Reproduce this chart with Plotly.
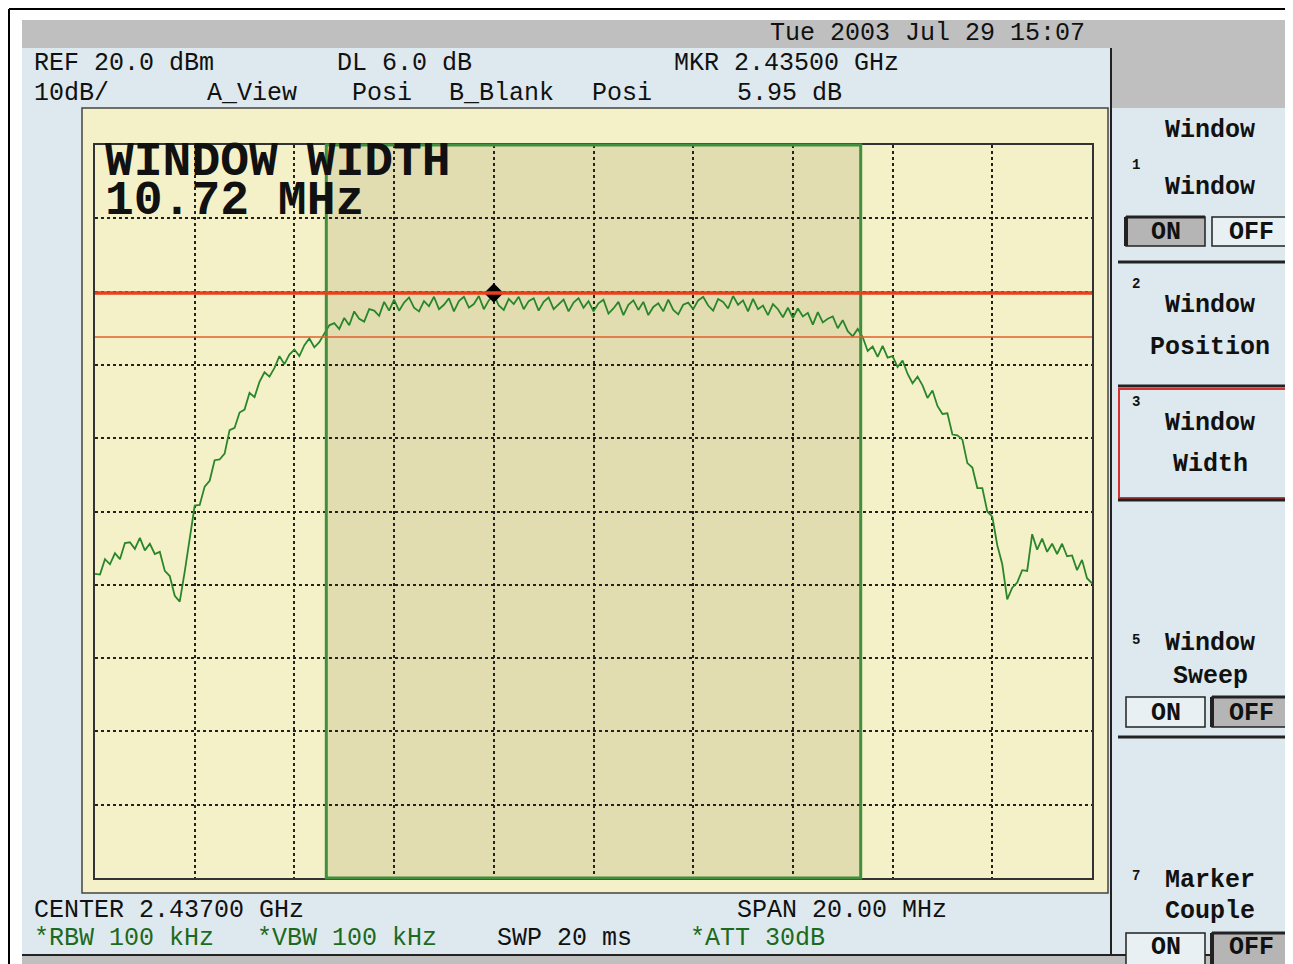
import plotly.graph_objects as go

# ---- analyzer settings ----
center_ghz = 2.437
span_mhz = 20.0
ref_dbm = 20.0
db_per_div = 10.0
marker_ghz = 2.435
marker_dbm = -0.2
dl_db = 6.0
window_mhz = 10.72

# trace A, one value per 0.1 MHz across the span (dBm)
trace_dbm = [
    -38.5, -38.6, -36.5, -37.2, -35.7, -36.5, -34.3, -34.2, -35.1, -33.6,
    -35.3, -34.4, -35.8, -35.5, -38.1, -38.8, -41.5, -42.3, -38.2, -33.8,
    -29.2, -29.1, -26.6, -25.8, -23.0, -22.9, -22.1, -18.9, -18.6, -16.5,
    -16.1, -13.8, -14.4, -12.3, -11.0, -11.6, -10.4, -8.8, -9.9, -8.6,
    -7.9, -8.8, -7.3, -6.4, -7.6, -6.9, -5.7, -4.6, -4.3, -5.1,
    -3.6, -4.6, -2.7, -3.7, -4.1, -2.4, -2.6, -3.3, -1.4, -2.6,
    -1.1, -2.6, -1.5, -0.8, -2.2, -2.7, -1.3, -2.0, -0.7, -2.4,
    -1.8, -0.9, -2.7, -1.3, -0.7, -2.2, -1.7, -0.6, -2.4, -1.2,
    -0.4, -1.9, -2.5, -1.0, -1.7, -0.7, -2.4, -1.3, -0.9, -2.6,
    -1.4, -0.8, -2.4, -1.8, -1.1, -2.7, -1.5, -0.9, -2.2, -1.3,
    -2.7, -1.6, -1.1, -3.0, -2.3, -1.4, -3.2, -1.8, -1.2, -2.5,
    -1.4, -3.2, -2.1, -1.6, -2.7, -1.1, -2.5, -3.1, -1.8, -1.5,
    -2.4, -1.2, -0.7, -1.9, -2.6, -1.0, -1.4, -2.3, -0.6, -1.8,
    -1.2, -2.7, -1.0, -2.4, -1.9, -3.2, -1.7, -2.4, -3.5, -2.2,
    -3.6, -2.3, -3.4, -2.9, -4.5, -2.8, -4.2, -3.7, -3.4, -5.0,
    -3.9, -5.4, -6.1, -5.1, -6.2, -8.1, -7.5, -8.9, -7.4, -9.0,
    -8.8, -10.3, -9.4, -11.2, -12.5, -11.6, -12.8, -14.5, -13.5, -15.6,
    -16.7, -16.6, -19.5, -19.6, -20.2, -23.4, -24.0, -26.8, -26.8, -30.0,
    -30.7, -34.6, -37.2, -42.0, -40.4, -39.7, -38.0, -38.1, -33.1, -35.2,
    -33.7, -35.5, -34.4, -35.8, -34.4, -36.1, -36.0, -38.0, -36.6, -39.1,
    -39.8,
]

header_row1 = ["REF 20.0 dBm", "DL 6.0 dB", "MKR 2.43500 GHz"]
header_row2 = ["10dB/", "A_View", "Posi", "B_Blank", "Posi", "5.95 dB"]
date_text = "Tue 2003 Jul 29 15:07"
footer_row1 = ["CENTER 2.43700 GHz", "SPAN 20.00 MHz"]
footer_row2 = ["*RBW 100 kHz", "*VBW 100 kHz", "SWP 20 ms", "*ATT 30dB"]
window_label = ["WINDOW WIDTH", "10.72 MHz"]

# ---- screen geometry (pixels of the page) ----
W, H = 1293, 964
L, R, T, B = 95, 1092, 145, 878
PAGE = 8  # default body margin of the html page
MONO = "Liberation Mono"


def px(x):
    return (x - L) / (R - L)


def py(y):
    return (B - y) / (B - T)


shapes = []
annotations = []


def rect(x0, y0, x1, y1, fill="rgba(0,0,0,0)", line="rgba(0,0,0,0)", width=0, layer="below"):
    shapes.append(dict(type="rect", xref="paper", yref="paper",
                       x0=px(x0), x1=px(x1), y0=py(y1), y1=py(y0),
                       fillcolor=fill, line=dict(color=line, width=width), layer=layer))


def seg(x0, y0, x1, y1, color="#222", width=2, layer="below"):
    shapes.append(dict(type="line", xref="paper", yref="paper",
                       x0=px(x0), x1=px(x1), y0=py(y0), y1=py(y1),
                       line=dict(color=color, width=width), layer=layer))


def txt(s, x, y, size=25, color="#111", anchor="left", bold=False, family=MONO):
    if bold:
        s = "<b>" + s + "</b>"
    annotations.append(dict(text=s, x=px(x), y=py(y), xref="paper", yref="paper",
                            xanchor=anchor, yanchor="middle", showarrow=False,
                            font=dict(family=family, size=size, color=color)))


# screen chrome
rect(22, 20, 1300, 48, fill="#bfbfbf")
rect(22, 48, 1300, 955, fill="#dde9ee")
rect(1112, 48, 1300, 108, fill="#bfbfbf")
rect(22, 955, 1300, 970, fill="#bfbfbf")
seg(22, 955, 1300, 955, width=2)
seg(1111, 48, 1111, 955, width=2)
seg(9, 9, 1300, 9, color="#000", width=2)
seg(9, 9, 9, 970, color="#000", width=2)

# yellow display
rect(82, 108, 1108, 893, fill="#f4f1c9", line="#444", width=1.5)

# window region
start_ghz = center_ghz - span_mhz / 2000
stop_ghz = center_ghz + span_mhz / 2000
win0 = center_ghz - window_mhz / 2000
win1 = center_ghz + window_mhz / 2000
shapes.append(dict(type="rect", xref="x", yref="paper", x0=win0, x1=win1, y0=0, y1=1,
                   fillcolor="#e2ddb1", line=dict(width=0), layer="below"))
shapes.append(dict(type="rect", xref="x", yref="paper", x0=win0, x1=win1, y0=0, y1=1,
                   fillcolor="rgba(0,0,0,0)", line=dict(color="#3f8f3f", width=3), layer="above"))

# display lines
shapes.append(dict(type="line", xref="paper", yref="y", x0=0, x1=1, y0=marker_dbm, y1=marker_dbm,
                   line=dict(color="#e8401c", width=3.5), layer="above"))
shapes.append(dict(type="line", xref="paper", yref="y", x0=0, x1=1,
                   y0=marker_dbm - dl_db, y1=marker_dbm - dl_db,
                   line=dict(color="#e0602c", width=1.5), layer="above"))

# header / footer text
txt(date_text, 768, 34)
for s, x in zip(header_row1, [32, 335, 672]):
    txt(s, x, 64)
for s, x in zip(header_row2, [32, 205, 350, 447, 590, 735]):
    txt(s, x, 93)
for s, x in zip(footer_row1, [32, 735]):
    txt(s, x, 910)
for s, x, c in zip(footer_row2, [32, 255, 495, 688], ["#1d6a1d", "#1d6a1d", "#111", "#1d6a1d"]):
    txt(s, x, 938, color=c)

txt(window_label[0], 103, 162, size=48, bold=True)
txt(window_label[1], 103, 201, size=48, bold=True)

# softkeys
PRESSED, PLAIN = "#b5b5b5", "#e9f0f3"


def onoff(y0, y1, on_pressed, ty=None):
    rect(1126, y0, 1205, y1, fill=PRESSED if on_pressed else PLAIN, line="#222", width=1.5)
    rect(1212, y0, 1290, y1, fill=PLAIN if on_pressed else PRESSED, line="#222", width=1.5)
    xp = 1126 if on_pressed else 1212
    seg(xp, y0, xp, y1, width=4)
    seg(xp, y0, xp + (79 if on_pressed else 78), y0, width=3)
    ty = (y0 + y1) / 2 + 1 if ty is None else ty
    txt("ON", 1166, ty, anchor="center", bold=True)
    txt("OFF", 1251, ty, anchor="center", bold=True)


txt("Window", 1210, 131, anchor="center", bold=True)
txt("1", 1130, 165, size=14, bold=True)
txt("Window", 1210, 187, anchor="center", bold=True)
onoff(217, 246, True)
seg(1118, 262, 1300, 262, width=3)
txt("2", 1130, 284, size=14, bold=True)
txt("Window", 1210, 305, anchor="center", bold=True)
txt("Position", 1210, 347, anchor="center", bold=True)
seg(1118, 386, 1300, 386, width=3)
rect(1119, 389, 1300, 498, line="#d83030", width=2)
seg(1118, 500, 1300, 500, width=3)
txt("3", 1130, 402, size=14, bold=True)
txt("Window", 1210, 423, anchor="center", bold=True)
txt("Width", 1210, 465, anchor="center", bold=True)
txt("5", 1130, 640, size=14, bold=True)
txt("Window", 1210, 643, anchor="center", bold=True)
txt("Sweep", 1210, 676, anchor="center", bold=True)
onoff(697, 727, False)
seg(1118, 737, 1300, 737, width=3)
txt("7", 1130, 876, size=14, bold=True)
txt("Marker", 1210, 880, anchor="center", bold=True)
txt("Couple", 1210, 912, anchor="center", bold=True)
onoff(933, 970, False, ty=947)

# ---- data traces ----
n = len(trace_dbm)
freqs = [start_ghz + i * (stop_ghz - start_ghz) / (n - 1) for i in range(n)]

fig = go.Figure()
fig.add_trace(go.Scatter(x=freqs, y=trace_dbm, mode="lines",
                         line=dict(color="#2a862a", width=1.8), hoverinfo="skip"))
fig.add_trace(go.Scatter(x=[marker_ghz], y=[marker_dbm], mode="markers",
                         marker=dict(symbol="diamond", size=15, color="#000")))

axis_common = dict(showgrid=True, gridcolor="#222", griddash="dot", gridwidth=1.5,
                   showticklabels=False, ticks="", zeroline=False,
                   showline=True, linecolor="#333", linewidth=1.5, mirror=True)
fig.update_xaxes(range=[start_ghz, stop_ghz], tick0=start_ghz, dtick=span_mhz / 10000, **axis_common)
fig.update_yaxes(range=[ref_dbm - 10 * db_per_div, ref_dbm], tick0=ref_dbm, dtick=db_per_div, **axis_common)

fig.update_layout(
    width=W - PAGE, height=H - PAGE,
    margin=dict(l=L - PAGE, r=W - R, t=T - PAGE, b=H - B, pad=0),
    paper_bgcolor="white",
    plot_bgcolor="rgba(0,0,0,0)",
    showlegend=False,
    shapes=shapes,
    annotations=annotations,
)

fig.write_html("out.html")
